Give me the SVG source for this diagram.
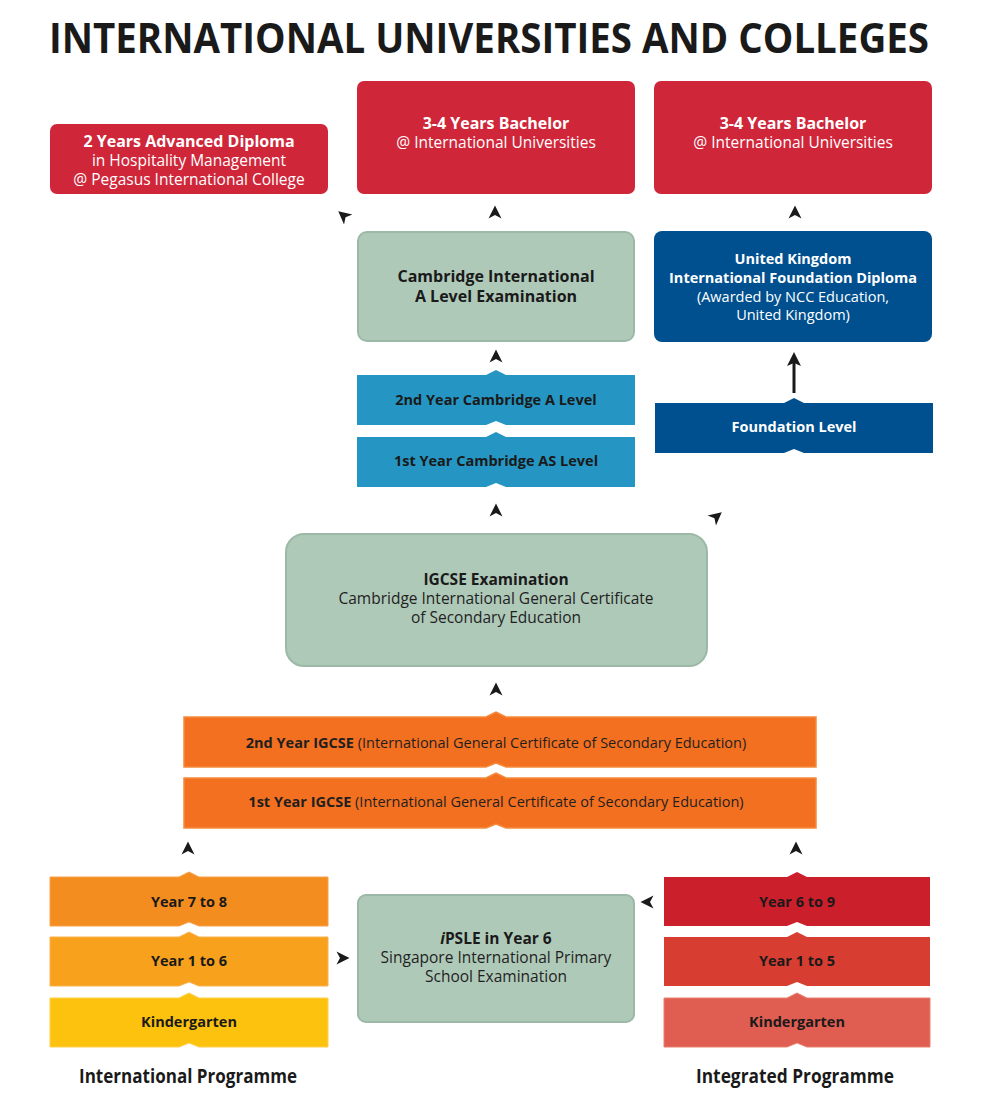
<svg xmlns="http://www.w3.org/2000/svg" xmlns:xlink="http://www.w3.org/1999/xlink" width="1000" height="1102" viewBox="0 0 1000 1102">
<style>
text{font-family:"Open Sans","Noto Sans","DejaVu Sans",sans-serif;text-anchor:middle}
.t{font-weight:700;fill:#1a1a1a}
.w{fill:#ffffff}
.d{fill:#1f1f1f}
.b{font-weight:700}
.s15{font-size:15.5px}
.s14{font-size:14.5px}
.s155{font-size:15.5px}
.red{fill:#d0263a}
.grn{fill:#afc9b9;stroke:#9cb9a7;stroke-width:2}
.blu{fill:#00508f}
.ah{fill:#1a1a1a}
</style>
<defs>
<path id="ah" d="M0,-7.5 L6.5,5.5 L0,2 L-6.5,5.5 Z"/>
</defs>

<text x="489" y="53" class="t" style="font-size:41px" textLength="880" lengthAdjust="spacingAndGlyphs">INTERNATIONAL UNIVERSITIES AND COLLEGES</text>

<g id="diploma">
<rect x="50" y="124" width="278" height="70" rx="7" class="red"/>
<text x="189" y="147" class="w b" style="font-size:16px">2 Years Advanced Diploma</text>
<text x="189" y="166" class="w s15">in Hospitality Management</text>
<text x="189" y="185" class="w s15">@ Pegasus International College</text>
</g>

<g id="bachelor1">
<rect x="357" y="81" width="278" height="113" rx="7" class="red"/>
<text x="496" y="129" class="w b" style="font-size:16px">3-4 Years Bachelor</text>
<text x="496" y="148" class="w s15">@ International Universities</text>
</g>

<g id="bachelor2">
<rect x="654" y="81" width="278" height="113" rx="7" class="red"/>
<text x="793" y="129" class="w b" style="font-size:16px">3-4 Years Bachelor</text>
<text x="793" y="148" class="w s15">@ International Universities</text>
</g>

<g id="alevel-exam">
<rect x="358" y="232" width="276" height="109" rx="9" class="grn"/>
<text x="496" y="282" class="t" style="font-size:16px">Cambridge International</text>
<text x="496" y="302" class="t" style="font-size:16px">A Level Examination</text>
</g>

<g id="uk-diploma">
<rect x="654" y="231" width="278" height="111" rx="8" class="blu"/>
<text x="793" y="264" class="w b s14">United Kingdom</text>
<text x="793" y="283" class="w b s14">International Foundation Diploma</text>
<text x="793" y="302" class="w s14">(Awarded by NCC Education,</text>
<text x="793" y="320" class="w s14">United Kingdom)</text>
</g>

<g id="alevel2">
<path d="M357,375 H486 L496,370 L506,375 H635 V425 H506 L496,421 L486,425 H357 Z" fill="#2596c3"/>
<text x="496" y="405" class="t s14">2nd Year Cambridge A Level</text>
</g>

<g id="alevel1">
<path d="M357,437 H486 L496,432 L506,437 H635 V487 H506 L496,483 L486,487 H357 Z" fill="#2596c3"/>
<text x="496" y="466" class="t s14">1st Year Cambridge AS Level</text>
</g>

<g id="foundation">
<path d="M655,403 H784 L794,398 L804,403 H933 V453 H804 L794,449 L784,453 H655 Z" class="blu"/>
<text x="794" y="432" class="w b s14">Foundation Level</text>
</g>

<g id="igcse-exam">
<rect x="286" y="534" width="421" height="132" rx="18" class="grn"/>
<text x="496" y="585" class="t s155">IGCSE Examination</text>
<text x="496" y="604" class="d s155">Cambridge International General Certificate</text>
<text x="496" y="623" class="d s155">of Secondary Education</text>
</g>

<g id="igcse2">
<path d="M184,717 H486 L496,712 L506,717 H816 V767 H506 L496,763 L486,767 H184 Z" fill="#f37021" stroke="#f58a3c" stroke-width="1.5"/>
<text x="496" y="748" class="d s14"><tspan class="b">2nd Year IGCSE</tspan> (International General Certificate of Secondary Education)</text>
</g>

<g id="igcse1">
<path d="M184,778 H486 L496,773 L506,778 H816 V828 H506 L496,824 L486,828 H184 Z" fill="#f37021" stroke="#f58a3c" stroke-width="1.5"/>
<text x="496" y="807" class="d s14"><tspan class="b">1st Year IGCSE</tspan> (International General Certificate of Secondary Education)</text>
</g>

<g id="intl-y7">
<path d="M50,877 H179 L189,872 L199,877 H328 V926 H199 L189,922 L179,926 H50 Z" fill="#f48d20" stroke="#f7a04a" stroke-width="1"/>
<text x="189" y="907" class="t s14">Year 7 to 8</text>
</g>
<g id="intl-y1">
<path d="M50,937 H179 L189,932 L199,937 H328 V986 H199 L189,982 L179,986 H50 Z" fill="#f7a11c" stroke="#f9b24d" stroke-width="1"/>
<text x="189" y="966" class="t s14">Year 1 to 6</text>
</g>
<g id="intl-kg">
<path d="M50,998 H179 L189,993 L199,998 H328 V1047 H199 L189,1043 L179,1047 H50 Z" fill="#fdc20e" stroke="#fdd04a" stroke-width="1"/>
<text x="189" y="1027" class="t s14">Kindergarten</text>
</g>

<g id="ipsle">
<rect x="358" y="895" width="276" height="127" rx="8" class="grn"/>
<text x="496" y="944" class="t s155"><tspan font-style="italic">i</tspan>PSLE in Year 6</text>
<text x="496" y="963" class="d s155">Singapore International Primary</text>
<text x="496" y="982" class="d s155">School Examination</text>
</g>

<g id="integ-y6">
<path d="M664,877 H787 L797,872 L807,877 H930 V926 H807 L797,922 L787,926 H664 Z" fill="#cc1f2c"/>
<text x="797" y="907" class="t s14">Year 6 to 9</text>
</g>
<g id="integ-y1">
<path d="M664,937 H787 L797,932 L807,937 H930 V986 H807 L797,982 L787,986 H664 Z" fill="#d83d31"/>
<text x="797" y="966" class="t s14">Year 1 to 5</text>
</g>
<g id="integ-kg">
<path d="M664,998 H787 L797,993 L807,998 H930 V1047 H807 L797,1043 L787,1047 H664 Z" fill="#e05d51" stroke="#e8806f" stroke-width="1"/>
<text x="797" y="1027" class="t s14">Kindergarten</text>
</g>

<g id="labels">
<text x="188" y="1083" class="t" style="font-size:19px" textLength="218" lengthAdjust="spacingAndGlyphs">International Programme</text>
<text x="795" y="1083" class="t" style="font-size:19px" textLength="198" lengthAdjust="spacingAndGlyphs">Integrated Programme</text>
</g>

<g id="connectors" class="ah">
<use xlink:href="#ah" transform="translate(344,216) rotate(-50)"/>
<use xlink:href="#ah" transform="translate(495,213)"/>
<use xlink:href="#ah" transform="translate(795,213)"/>
<use xlink:href="#ah" transform="translate(496,357)"/>
<use xlink:href="#ah" transform="translate(496,511)"/>
<use xlink:href="#ah" transform="translate(716,517) rotate(50)"/>
<use xlink:href="#ah" transform="translate(496,690)"/>
<use xlink:href="#ah" transform="translate(188,849)"/>
<use xlink:href="#ah" transform="translate(796,849)"/>
<use xlink:href="#ah" transform="translate(342,958) rotate(90)"/>
<use xlink:href="#ah" transform="translate(648,902) rotate(-90)"/>
<line x1="794" y1="393" x2="794" y2="362" stroke="#1a1a1a" stroke-width="3"/>
<path d="M794,352 L801,366 L794,363 L787,366 Z"/>
</g>
</svg>
